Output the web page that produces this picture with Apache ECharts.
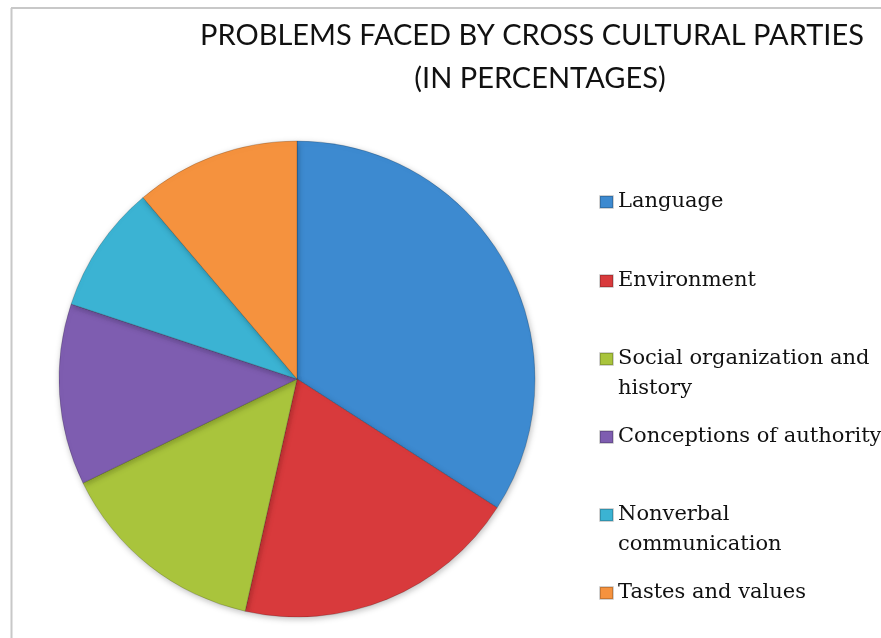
<!DOCTYPE html>
<html>
<head>
<meta charset="utf-8">
<script src="https://cdn.jsdelivr.net/npm/echarts@6/dist/echarts.min.js"></script>
<style>
html,body{margin:0;padding:0;background:#fff;}
#c{width:881px;height:638px;}
</style>
</head>
<body>
<div id="c"></div>
<script>
const titleLines = ['PROBLEMS FACED BY CROSS CULTURAL PARTIES', '(IN PERCENTAGES)'];
const categories = ['Language', 'Environment', 'Social organization and history', 'Conceptions of authority', 'Nonverbal communication', 'Tastes and values'];
const legendLabels = ['Language', 'Environment', 'Social organization and\nhistory', 'Conceptions of authority', 'Nonverbal\ncommunication', 'Tastes and values'];
const values = [34.1, 19.4, 14.3, 12.3, 8.7, 11.2];
const colors = ['#3D8AD0', '#D83A3C', '#A9C43C', '#7E5DB0', '#3BB3D3', '#F5923E'];

const legendCenters = [201, 280, 358, 436, 514, 592];
const legends = categories.map((name, i) => {
  const multi = legendLabels[i].indexOf('\n') >= 0;
  // a blank leading line keeps the icon level with the first text line
  const label = multi ? ' \n' + legendLabels[i] : legendLabels[i];
  return {
    show: true,
    left: 599,
    top: legendCenters[i] - (multi ? 44 : 14),
    orient: 'vertical',
    icon: 'rect',
    itemWidth: 13,
    itemHeight: 12,
    itemGap: 0,
    padding: 0,
    data: [name],
    selectedMode: false,
    formatter: () => label,
    textStyle: {
      fontFamily: 'DejaVu Serif',
      fontSize: 21,
      color: '#111',
      lineHeight: 30
    }
  };
});

const titleCenters = [532, 540];
const titleTops = [15, 58];
const titles = titleLines.map((t, i) => ({
  text: t,
  left: titleCenters[i],
  top: titleTops[i],
  textAlign: 'center',
  padding: 0,
  textStyle: {
    fontFamily: 'Lato',
    fontWeight: 'normal',
    fontSize: 29,
    lineHeight: 41,
    color: '#111'
  }
}));

const chart = echarts.init(document.getElementById('c'), null, {renderer: 'canvas'});
chart.setOption({
  animation: false,
  backgroundColor: '#fff',
  color: colors,
  title: titles,
  legend: legends,
  graphic: [
    {type: 'line', shape: {x1: 11.5, y1: 8, x2: 11.5, y2: 638}, style: {stroke: '#c8c8c8', lineWidth: 2}},
    {type: 'line', shape: {x1: 11, y1: 8, x2: 881, y2: 8}, style: {stroke: '#c8c8c8', lineWidth: 2}}
  ],
  series: [{
    type: 'pie',
    center: [297, 379],
    radius: 238,
    startAngle: 90,
    clockwise: true,
    label: {show: false},
    labelLine: {show: false},
    emphasis: {disabled: true},
    itemStyle: {
      borderColor: 'rgba(0,0,0,0.18)',
      borderWidth: 1,
      shadowBlur: 6,
      shadowOffsetX: 1,
      shadowOffsetY: 2,
      shadowColor: 'rgba(0,0,0,0.25)'
    },
    data: categories.map((n, i) => ({name: n, value: values[i]}))
  }]
});
</script>
</body>
</html>
